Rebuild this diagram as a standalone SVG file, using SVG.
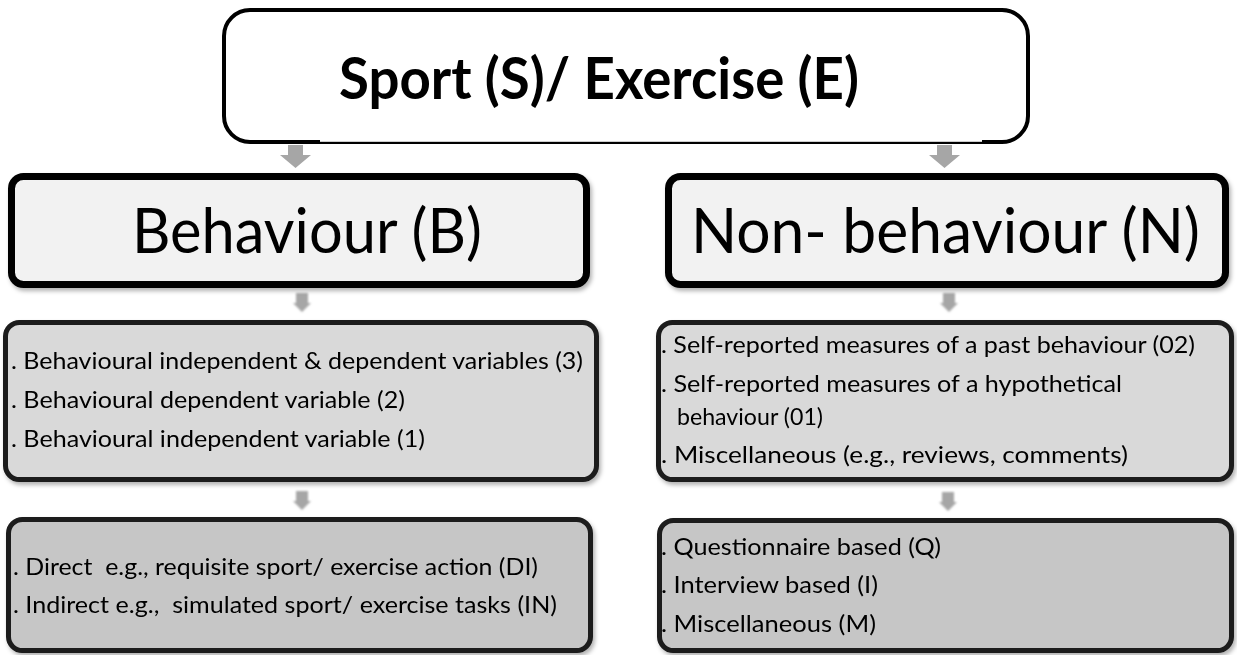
<svg xmlns="http://www.w3.org/2000/svg" width="1237" height="655" viewBox="0 0 1237 655">
  <style>
    .title { font-family: Lato, "Liberation Sans", sans-serif; font-weight: 700; font-size: 58px; fill: #000; }
    .head { font-family: Lato, "Liberation Sans", sans-serif; font-size: 62px; fill: #000; }
    .item { font-family: Lato, "Liberation Sans", sans-serif; font-size: 24px; fill: #000; white-space: pre; }
    .box-top { fill: #ffffff; stroke: #000; stroke-width: 4; }
    .box-l2 { fill: #f2f2f2; stroke: #000; stroke-width: 7; }
    .box-l3 { fill: #d9d9d9; stroke: #1a1a1a; stroke-width: 5; }
    .box-l4 { fill: #c6c6c6; stroke: #1a1a1a; stroke-width: 5; }
    .arrow { fill: #a6a6a6; }
  </style>
  <defs>
    <filter id="shadow" x="-5%" y="-10%" width="110%" height="125%">
      <feDropShadow dx="2" dy="3" stdDeviation="2" flood-color="#000" flood-opacity="0.3"/>
    </filter>
    <filter id="soft" x="-50%" y="-50%" width="200%" height="200%">
      <feGaussianBlur stdDeviation="0.8"/>
    </filter>
  </defs>

  <rect width="1237" height="655" fill="#ffffff"/>

  <!-- connectors: block arrows between levels -->
  <g id="connectors">
    <path class="arrow" d="M288 145 H303 V155 H311 L295.5 168 L280 155 H288 Z"/>
    <path class="arrow" d="M937 145 H952 V155 H960 L944.5 168 L929 155 H937 Z"/>
    <g filter="url(#soft)">
      <path class="arrow" d="M296 293 H308 V303 H311 L302 312 L293 303 H296 Z"/>
      <path class="arrow" d="M943 293 H955 V303 H958 L949 312 L940 303 H943 Z"/>
      <path class="arrow" d="M296 491 H308 V501 H311 L302 510 L293 501 H296 Z"/>
      <path class="arrow" d="M942 492 H954 V502 H957 L948 511 L939 502 H942 Z"/>
    </g>
  </g>

  <!-- top node -->
  <g id="node-sport">
    <rect class="box-top" x="224" y="10" width="804" height="132" rx="26"/>
    <rect x="320" y="139.6" width="662" height="2.2" fill="#ffffff"/>
    <text class="title" x="339" y="99" textLength="520" lengthAdjust="spacingAndGlyphs">Sport (S)/ Exercise (E)</text>
  </g>

  <!-- second level -->
  <g id="node-behaviour" filter="url(#shadow)">
    <rect class="box-l2" x="11.5" y="176.5" width="575" height="108" rx="12"/>
    <text class="head" x="132" y="253" textLength="350" lengthAdjust="spacingAndGlyphs">Behaviour (B)</text>
  </g>
  <g id="node-nonbehaviour" filter="url(#shadow)">
    <rect class="box-l2" x="668.5" y="176.5" width="557" height="108" rx="12"/>
    <text class="head" x="691" y="253" textLength="509" lengthAdjust="spacingAndGlyphs">Non- behaviour (N)</text>
  </g>

  <!-- third level -->
  <g id="node-b-variables" filter="url(#shadow)">
    <rect class="box-l3" x="5.5" y="322.5" width="591" height="157" rx="14"/>
    <text class="item" x="11" y="369" textLength="572" lengthAdjust="spacingAndGlyphs">. Behavioural independent &amp; dependent variables (3)</text>
    <text class="item" x="11" y="408" textLength="394" lengthAdjust="spacingAndGlyphs">. Behavioural dependent variable (2)</text>
    <text class="item" x="11" y="447" textLength="414" lengthAdjust="spacingAndGlyphs">. Behavioural independent variable (1)</text>
  </g>
  <g id="node-n-measures" filter="url(#shadow)">
    <rect class="box-l3" x="658.5" y="322.5" width="573" height="157" rx="14"/>
    <text class="item" x="661" y="353" textLength="534" lengthAdjust="spacingAndGlyphs">. Self-reported measures of a past behaviour (02)</text>
    <text class="item" x="661" y="392" textLength="461" lengthAdjust="spacingAndGlyphs">. Self-reported measures of a hypothetical</text>
    <text class="item" x="677" y="425" textLength="146" lengthAdjust="spacingAndGlyphs">behaviour (01)</text>
    <text class="item" x="661" y="463" textLength="467" lengthAdjust="spacingAndGlyphs">. Miscellaneous (e.g., reviews, comments)</text>
  </g>

  <!-- fourth level -->
  <g id="node-b-direct" filter="url(#shadow)">
    <rect class="box-l4" x="8.5" y="519.5" width="582" height="131" rx="14"/>
    <text class="item" x="13" y="575" textLength="525" lengthAdjust="spacingAndGlyphs">. Direct  e.g., requisite sport/ exercise action (DI)</text>
    <text class="item" x="13" y="613" textLength="544" lengthAdjust="spacingAndGlyphs">. Indirect e.g.,  simulated sport/ exercise tasks (IN)</text>
  </g>
  <g id="node-n-methods" filter="url(#shadow)">
    <rect class="box-l4" x="659.5" y="520.5" width="572" height="130" rx="14"/>
    <text class="item" x="661" y="555" textLength="280" lengthAdjust="spacingAndGlyphs">. Questionnaire based (Q)</text>
    <text class="item" x="661" y="593" textLength="217" lengthAdjust="spacingAndGlyphs">. Interview based (I)</text>
    <text class="item" x="661" y="632" textLength="215" lengthAdjust="spacingAndGlyphs">. Miscellaneous (M)</text>
  </g>
</svg>
